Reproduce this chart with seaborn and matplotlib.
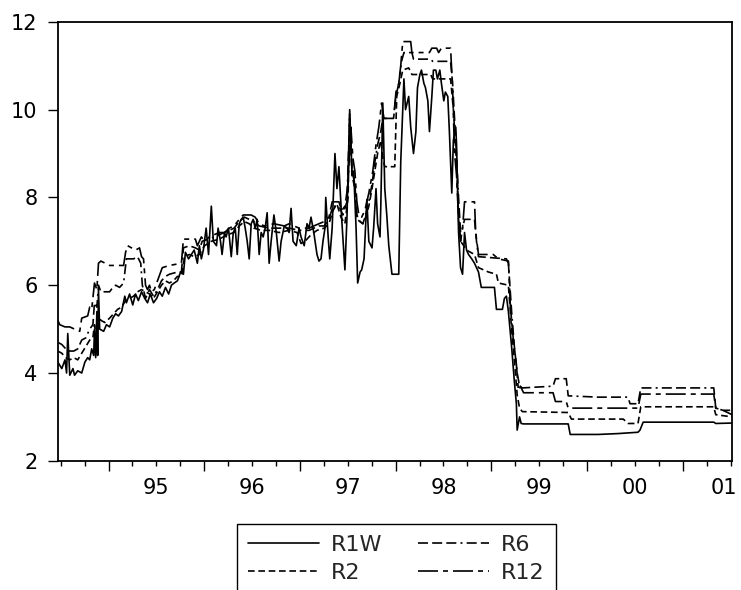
import numpy as np
import pandas as pd
import matplotlib
matplotlib.use("Agg")
import matplotlib.pyplot as plt
import matplotlib.transforms as mtransforms
import seaborn as sns
from matplotlib.ticker import FixedLocator, FuncFormatter, NullFormatter

# ---------------- data (time in months since mid-1994) ----------------
START_YEAR = 1994.47
SERIES = ["R1W", "R2", "R6", "R12"]

r1w_m = [0.0, 0.5, 0.9, 1.1, 1.25, 1.5, 1.9, 2.1, 2.5, 3.0, 3.4, 3.75, 4.0, 4.25, 4.5, 4.6, 4.75, 4.9, 5.0, 5.1,
         5.25, 5.75, 6.1, 6.5, 6.9, 7.25, 7.6, 8.0, 8.4, 8.6, 9.0, 9.4, 9.75, 10.1, 10.5, 10.9, 11.25, 11.6, 12.0, 12.4,
         12.75, 13.1, 13.5, 13.9, 14.25, 14.6, 15.0, 15.4, 15.75, 16.0, 16.4, 16.75, 17.1, 17.5, 17.75, 18.0, 18.25, 18.6, 18.9, 19.25,
         19.5, 19.9, 20.1, 20.4, 20.6, 20.9, 21.1, 21.4, 21.75, 22.0, 22.25, 22.5, 22.75, 23.0, 23.25, 23.5, 23.75, 24.0, 24.25, 24.5,
         24.75, 25.0, 25.25, 25.5, 25.75, 26.0, 26.25, 26.5, 26.75, 27.1, 27.4, 27.75, 28.0, 28.4, 28.75, 29.0, 29.25, 29.5, 29.9, 30.25,
         30.5, 30.9, 31.25, 31.5, 31.75, 32.1, 32.5, 32.75, 33.0, 33.25, 33.5, 33.6, 33.9, 34.1, 34.4, 34.75, 35.0, 35.25, 35.6, 36.0,
         36.25, 36.6, 36.9, 37.1, 37.4, 37.6, 37.9, 38.1, 38.4, 38.75, 39.0, 39.4, 39.6, 39.9, 40.1, 40.4, 40.5, 40.75, 41.0, 41.25,
         41.5, 41.75, 41.9, 42.75, 43.0, 43.4, 43.6, 44.0, 44.25, 44.6, 44.9, 45.1, 45.4, 45.6, 45.9, 46.1, 46.4, 46.6, 46.9, 47.1,
         47.4, 47.6, 47.9, 48.1, 48.4, 48.6, 48.9, 49.1, 49.4, 49.6, 49.9, 50.0, 50.25, 50.5, 50.75, 51.0, 51.25, 51.5, 51.9, 52.25,
         52.75, 53.1, 54.75, 55.0, 55.75, 56.0, 56.25, 56.5, 56.9, 57.25, 57.5, 57.6, 57.9, 58.1, 58.4, 64.0, 64.25, 67.75, 70.25, 72.75,
         73.0, 73.4, 82.25, 82.5, 84.55]
r1w_v = [4.25, 4.1, 4.3, 4.0, 4.9, 3.95, 4.1, 3.95, 4.05, 4.0, 4.25, 4.35, 4.3, 4.55, 4.4, 5.0, 4.35, 5.4, 4.4, 5.9,
         5.0, 4.95, 5.1, 5.05, 5.25, 5.35, 5.3, 5.4, 5.75, 5.6, 5.8, 5.55, 5.8, 5.65, 5.85, 5.7, 5.6, 5.8, 5.6, 5.7,
         5.85, 5.75, 5.95, 5.8, 6.0, 6.05, 6.1, 6.3, 6.25, 6.75, 6.6, 6.7, 6.8, 6.5, 6.9, 6.6, 6.8, 7.3, 6.7, 7.8,
         7.0, 6.9, 7.3, 7.0, 6.7, 7.2, 7.1, 7.3, 6.65, 7.2, 7.3, 6.7, 7.4, 7.5, 7.55, 7.3, 7.0, 6.6, 7.4, 7.5,
         7.3, 7.5, 6.7, 7.2, 7.1, 7.3, 7.65, 6.5, 7.0, 7.6, 7.2, 6.55, 7.0, 7.35, 7.3, 7.2, 7.75, 7.0, 6.9, 7.3,
         7.1, 6.9, 7.4, 7.3, 7.55, 7.2, 6.7, 6.55, 6.6, 7.0, 7.3, 8.0, 7.1, 6.6, 7.3, 9.0, 8.2, 8.7, 7.5, 6.35,
         7.5, 10.0, 8.5, 8.6, 7.3, 6.05, 6.3, 6.35, 6.6, 7.95, 7.0, 6.85, 7.3, 8.2, 7.4, 7.1, 7.8, 10.15, 8.2, 7.6,
         6.9, 6.5, 6.25, 6.25, 8.8, 10.7, 10.0, 10.3, 9.6, 9.0, 9.5, 10.5, 10.8, 10.9, 10.6, 10.5, 10.2, 9.5, 10.3, 10.9,
         10.9, 10.7, 10.9, 10.6, 10.2, 10.4, 10.3, 9.5, 8.1, 9.3, 9.6, 9.2, 7.2, 6.4, 6.25, 7.2, 6.8, 6.7, 6.6, 6.5,
         6.3, 5.95, 5.95, 5.45, 5.45, 5.7, 5.75, 5.4, 4.6, 3.8, 3.3, 2.7, 3.0, 2.85, 2.84, 2.84, 2.6, 2.6, 2.62, 2.65,
         2.7, 2.88, 2.88, 2.85, 2.86]

r2_m = [0, 0.5, 1.0, 1.5, 2.0, 2.5, 3.0, 3.5, 4.0, 4.4, 4.6, 4.9, 5.1, 5.4, 5.9, 6.5, 7.0, 7.5, 8.0, 8.5,
        9.0, 9.5, 10.0, 10.5, 11.0, 11.5, 12.0, 12.5, 13.0, 13.5, 14.0, 14.5, 15.0, 15.5, 15.9, 16.5, 17.1, 17.75, 18.4, 19.25,
        20.25, 21.25, 22.1, 22.75, 23.4, 24.0, 24.6, 25.5, 26.5, 27.75, 29.0, 30.0, 30.5, 31.0, 31.75, 32.5, 33.4, 34.0, 34.5, 35.0,
        35.5, 36.0, 36.4, 36.6, 36.9, 37.25, 37.5, 37.9, 38.25, 38.6, 39.0, 39.4, 39.75, 40.1, 40.5, 40.75, 41.0, 42.25, 42.5, 42.9,
        43.25, 44.0, 44.4, 46.75, 47.0, 49.25, 49.6, 50.0, 50.25, 50.5, 50.9, 51.25, 52.25, 52.75, 54.0, 55.0, 55.25, 56.5, 56.9, 57.25,
        57.6, 57.9, 58.25, 64.0, 64.4, 70.9, 71.5, 72.75, 73.1, 82.25, 82.5, 84.55]
r2_v = [4.5, 4.45, 4.35, 4.3, 4.35, 4.3, 4.45, 4.6, 4.75, 4.8, 5.1, 4.8, 5.3, 5.2, 5.15, 5.25, 5.35, 5.45, 5.5, 5.65,
        5.7, 5.75, 5.85, 5.9, 5.85, 5.8, 5.7, 5.85, 6.0, 6.1, 6.05, 6.1, 6.2, 6.2, 6.65, 6.7, 6.65, 6.7, 6.9, 7.0,
        7.05, 7.15, 7.2, 7.35, 7.45, 7.4, 7.3, 7.25, 7.25, 7.2, 7.25, 7.2, 6.95, 7.0, 7.15, 7.25, 7.3, 7.4, 7.7, 7.85,
        7.55, 7.4, 8.0, 9.9, 8.5, 8.2, 7.5, 7.45, 7.4, 7.55, 7.8, 8.2, 8.6, 9.0, 9.3, 8.9, 8.7, 8.7, 10.3, 10.6,
        10.9, 10.95, 10.8, 10.8, 10.7, 10.7, 10.0, 8.8, 7.6, 7.0, 6.9, 6.8, 6.7, 6.4, 6.3, 6.25, 6.05, 6.0, 5.0, 4.3,
        3.5, 3.2, 3.12, 3.1, 2.95, 2.95, 2.85, 2.85, 3.23, 3.23, 3.05, 3.0]

r6_m = [0, 0.5, 1.0, 1.5, 2.0, 2.5, 3.0, 3.5, 4.0, 4.4, 4.6, 4.9, 5.1, 5.4, 6.5, 6.9, 7.25, 7.75, 8.25, 8.6,
        9.5, 10.0, 10.4, 10.6, 11.0, 11.5, 12.0, 12.5, 13.0, 13.5, 14.0, 15.0, 15.5, 15.75, 16.5, 17.25, 17.75, 18.1, 19.6, 20.9,
        22.1, 22.75, 23.4, 24.0, 24.6, 25.25, 26.5, 27.75, 29.0, 30.25, 31.5, 32.75, 33.4, 34.0, 34.5, 35.25, 35.75, 36.25, 36.6, 36.9,
        37.25, 37.5, 37.9, 38.25, 38.6, 39.0, 39.4, 39.75, 40.1, 40.5, 40.75, 42.1, 42.4, 42.75, 43.1, 43.4, 44.4, 44.6, 46.75, 47.0,
        49.25, 49.5, 49.9, 50.25, 50.5, 50.75, 51.0, 52.25, 52.5, 52.75, 56.25, 56.5, 56.9, 57.25, 57.6, 57.9, 58.25, 62.1, 62.4, 63.75,
        64.0, 67.75, 71.5, 71.75, 72.75, 73.1, 82.25, 82.5, 83.4, 84.55]
r6_v = [4.7, 4.65, 4.55, 4.5, 4.5, 4.55, 4.75, 4.8, 5.0, 5.1, 5.6, 5.5, 6.0, 5.85, 5.85, 5.95, 6.0, 5.95, 6.05, 6.6,
        6.6, 6.65, 6.5, 6.0, 5.7, 5.9, 5.75, 5.9, 6.1, 6.2, 6.25, 6.3, 6.3, 6.85, 6.9, 6.85, 6.8, 7.0, 7.1, 7.2,
        7.3, 7.45, 7.55, 7.5, 7.45, 7.35, 7.3, 7.3, 7.3, 7.25, 7.25, 7.35, 7.35, 7.5, 7.8, 7.8, 7.6, 7.9, 9.8, 8.6,
        8.3, 7.6, 7.45, 7.4, 7.6, 7.9, 8.3, 8.8, 9.2, 9.5, 9.8, 9.8, 10.3, 10.6, 11.1, 11.3, 11.3, 11.15, 11.15, 11.1,
        11.1, 10.6, 9.3, 8.0, 7.2, 7.3, 7.5, 7.5, 7.0, 6.65, 6.6, 6.5, 5.4, 4.6, 4.0, 3.7, 3.66, 3.7, 3.87, 3.87,
        3.48, 3.45, 3.45, 3.3, 3.3, 3.66, 3.66, 3.2, 3.15, 3.15]

r12_m = [0, 0.25, 0.9, 1.5, 2.1, 2.75, 3.0, 3.75, 4.0, 4.25, 4.6, 4.9, 5.1, 5.4, 6.5, 7.75, 8.25, 8.5, 8.75, 9.75,
         10.25, 10.5, 10.75, 11.0, 11.25, 11.5, 11.75, 12.1, 12.5, 12.9, 13.1, 14.0, 15.5, 15.75, 17.25, 17.5, 17.75, 18.0, 18.4, 19.0,
         19.6, 20.25, 20.9, 21.5, 22.1, 22.75, 23.25, 24.25, 24.75, 25.25, 25.9, 27.1, 28.4, 29.0, 30.25, 31.5, 32.1, 32.75, 33.4, 34.0,
         34.4, 35.25, 35.6, 36.0, 36.4, 36.75, 37.0, 37.25, 37.5, 37.75, 38.1, 38.5, 39.0, 39.5, 39.9, 40.25, 40.6, 40.9, 42.1, 42.4,
         42.75, 43.0, 43.25, 44.25, 44.4, 46.6, 46.9, 47.5, 47.75, 48.1, 49.25, 49.5, 49.75, 50.0, 50.25, 50.5, 50.75, 51.0, 52.25, 52.4,
         52.75, 54.6, 55.25, 56.5, 56.75, 57.1, 57.5, 57.75, 58.0, 58.4, 62.1, 62.4, 63.75, 64.0, 72.75, 73.1, 82.25, 82.5, 83.4, 84.55]
r12_v = [5.2, 5.1, 5.05, 5.05, 5.0, 4.95, 5.25, 5.3, 5.5, 5.45, 6.05, 5.9, 6.5, 6.55, 6.45, 6.45, 6.45, 6.75, 6.9, 6.8,
         6.85, 6.65, 6.6, 6.0, 5.9, 6.0, 5.85, 5.9, 6.1, 6.3, 6.4, 6.45, 6.5, 7.05, 7.05, 6.9, 7.0, 7.1, 7.0, 7.1,
         7.15, 7.2, 7.2, 7.3, 7.35, 7.5, 7.6, 7.6, 7.55, 7.4, 7.35, 7.4, 7.35, 7.4, 7.3, 7.3, 7.35, 7.4, 7.45, 7.55,
         7.9, 7.9, 7.7, 7.8, 8.3, 9.6, 8.9, 8.6, 7.9, 7.6, 7.55, 7.7, 8.1, 8.6, 9.2, 9.6, 10.15, 9.8, 9.8, 10.4,
         10.6, 11.0, 11.55, 11.55, 11.3, 11.3, 11.4, 11.4, 11.3, 11.4, 11.4, 10.5, 9.0, 8.5, 7.5, 7.0, 7.3, 7.9, 7.9, 7.2,
         6.7, 6.7, 6.6, 6.55, 5.5, 4.8, 4.2, 3.6, 3.7, 3.55, 3.55, 3.35, 3.35, 3.2, 3.2, 3.52, 3.52, 3.2, 3.15, 3.05]

year_labels = ["95", "96", "97", "98", "99", "00", "01"]
y_ticks = [2, 4, 6, 8, 10, 12]

# ---------------- build long table ----------------
months = {"R1W": r1w_m, "R2": r2_m, "R6": r6_m, "R12": r12_m}
values = {"R1W": r1w_v, "R2": r2_v, "R6": r6_v, "R12": r12_v}
frames = []
for name in SERIES:
    frames.append(pd.DataFrame({"year": START_YEAR + np.asarray(months[name]) / 12.0,
                                "rate": values[name], "series": name}))
df = pd.concat(frames, ignore_index=True)

# ---------------- style ----------------
sns.set_theme(style="white")
plt.rcParams["font.family"] = ["DejaVu Sans"]

fig = plt.figure(figsize=(7.41, 5.90), dpi=100)
ax = fig.add_axes([0.078, 0.219, 0.910, 0.744])

dash_map = {"R1W": "", "R2": (4, 2.2), "R6": (6, 2.5, 6, 2.5, 6, 2.5, 1.2, 2.5), "R12": (12, 3, 3, 3)}
sns.lineplot(data=df, x="year", y="rate", hue="series", style="series",
             hue_order=SERIES, style_order=SERIES,
             palette={s: "black" for s in SERIES}, dashes=dash_map,
             estimator=None, sort=False, linewidth=1.2, ax=ax, legend=False)

x_end = START_YEAR + max(max(m) for m in months.values()) / 12.0
ax.set_xlim(START_YEAR, x_end)
ax.set_ylim(min(y_ticks), max(y_ticks))
ax.set_xlabel("")
ax.set_ylabel("")

# y axis
ax.yaxis.set_major_locator(FixedLocator(y_ticks))
ax.tick_params(axis="y", which="major", direction="out", length=7, width=1.0,
               labelsize=15, pad=7.5, left=True, colors="black")

# x axis: year boundaries (long ticks), quarters (short ticks), labels at mid-year
first_year = int(np.ceil(START_YEAR))
last_year = int(np.floor(x_end))
year_bounds = list(range(first_year, last_year + 1))
quarters = [y + q for y in range(first_year - 1, last_year + 1) for q in (0.25, 0.5, 0.75)
            if START_YEAR <= y + q <= x_end]
label_pos = {first_year + i + 0.5: lab for i, lab in enumerate(year_labels)}
ax.xaxis.set_major_locator(FixedLocator(year_bounds))
ax.xaxis.set_major_formatter(NullFormatter())
ax.xaxis.set_minor_locator(FixedLocator(quarters))
ax.xaxis.set_minor_formatter(FuncFormatter(
    lambda v, p: next((lab for pos, lab in label_pos.items() if abs(pos - v) < 1e-6), "")))
ax.tick_params(axis="x", which="major", direction="out", length=7, width=1.0, bottom=True, colors="black")
ax.tick_params(axis="x", which="minor", direction="out", length=3.6, width=1.0, bottom=True,
               labelsize=15, pad=8.5, colors="black")

# keep the last year label inside the figure (nudged left like the original)
fig.canvas.draw()
last_tick = ax.xaxis.get_minor_ticks()[-1]
last_tick.label1.set_transform(last_tick.label1.get_transform() +
                               mtransforms.ScaledTranslation(-5 / 72, 0, fig.dpi_scale_trans))

for sp in ax.spines.values():
    sp.set_color("black")
    sp.set_linewidth(1.3)
ax.grid(False)

handles = ax.get_lines()[:len(SERIES)]
leg = fig.legend(handles, SERIES, loc="upper center", bbox_to_anchor=(0.535, 0.1119),
                 ncol=2, frameon=True, fancybox=False, edgecolor="black", framealpha=1,
                 fontsize=16, handlelength=3.2, handletextpad=0.54, columnspacing=1.6,
                 labelspacing=0.36, borderpad=0.5, borderaxespad=0)
leg.get_frame().set_linewidth(1.0)

fig.savefig("out.png", dpi=100)
